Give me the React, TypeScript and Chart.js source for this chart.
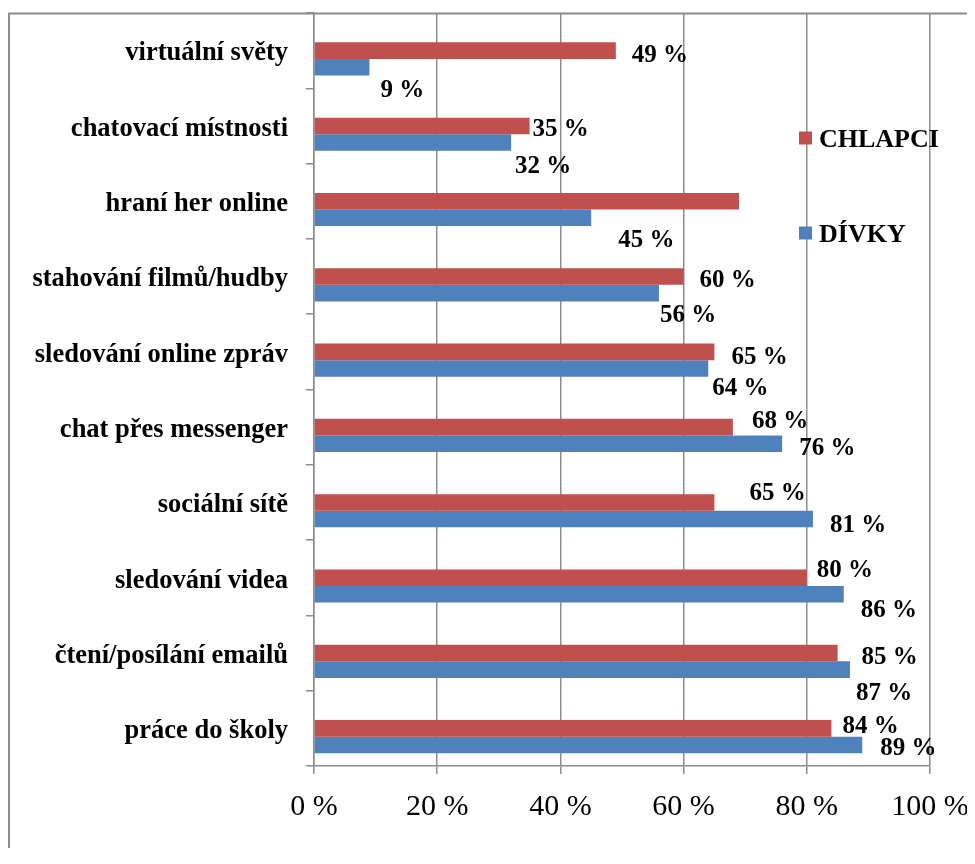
import React, { useEffect, useRef } from "react";
import { Chart, registerables } from "chart.js";

Chart.register(...registerables);

const categories = [
  "virtuální světy",
  "chatovací místnosti",
  "hraní her online",
  "stahování filmů/hudby",
  "sledování online zpráv",
  "chat přes messenger",
  "sociální sítě",
  "sledování videa",
  "čtení/posílání emailů",
  "práce do školy",
];
const chlapci = [49, 35, 69, 60, 65, 68, 65, 80, 85, 84];
const divky = [9, 32, 45, 56, 64, 76, 81, 86, 87, 89];
const chlapciLabelShown = [true, true, false, true, true, true, true, true, true, true];
const divkyLabelShown = [true, true, true, true, true, true, true, true, true, true];
const seriesNames = ["CHLAPCI", "DÍVKY"];
const xTickValues = [0, 20, 40, 60, 80, 100];

// manual nudges of the data labels (like moved Excel labels), in px from the bar end
const chlapciNudge = [
  [16, 2], [3, 1], [0, 0], [16, 1], [17, 3], [19, -9], [35, -12], [10, -10], [24, 1], [11, -5],
];
const divkyNudge = [
  [11, 20], [4, 21], [27, 20], [1, 19], [4, 17], [17, 2], [17, 4], [17, 13], [6, 21], [18, 1],
];

const RED = "#C0504D";
const BLUE = "#4F81BD";
const GRID = "#8c8c8c";
const SERIF = "'Liberation Serif', 'Times New Roman', serif";

export default function App() {
  const ref = useRef<HTMLCanvasElement | null>(null);

  useEffect(() => {
    if (!ref.current) return;

    const decor = {
      id: "decor",
      beforeDraw(chart: any) {
        const ctx = chart.ctx;
        ctx.save();
        ctx.strokeStyle = GRID;
        ctx.lineWidth = 2;
        ctx.beginPath();
        ctx.moveTo(1, chart.height);
        ctx.lineTo(1, 5.5);
        ctx.lineTo(chart.width, 5.5);
        ctx.stroke();
        ctx.restore();
      },
      afterDatasetsDraw(chart: any) {
        const ctx = chart.ctx;
        ctx.save();
        ctx.fillStyle = "#000";
        ctx.font = `bold 25px ${SERIF}`;
        ctx.textAlign = "left";
        ctx.textBaseline = "middle";
        const sets = [
          { meta: chart.getDatasetMeta(1), vals: chlapci, shown: chlapciLabelShown, nudge: chlapciNudge },
          { meta: chart.getDatasetMeta(2), vals: divky, shown: divkyLabelShown, nudge: divkyNudge },
        ];
        for (const s of sets) {
          s.meta.data.forEach((bar: any, i: number) => {
            if (!s.shown[i]) return;
            ctx.fillText(`${s.vals[i]} %`, bar.x + s.nudge[i][0], bar.y + s.nudge[i][1] + 3);
          });
        }
        // x tick labels
        const xs = chart.scales.x;
        ctx.font = `30px ${SERIF}`;
        ctx.textAlign = "center";
        for (const v of xTickValues) {
          ctx.fillText(`${v} %`, xs.getPixelForValue(v), 799);
        }
        // legend
        ctx.font = `bold 26px ${SERIF}`;
        ctx.textAlign = "left";
        const legendItems = [
          { name: seriesNames[0], color: RED, y: 130 },
          { name: seriesNames[1], color: BLUE, y: 225 },
        ];
        for (const it of legendItems) {
          ctx.fillStyle = it.color;
          ctx.fillRect(791, it.y - 6.5, 13, 13);
          ctx.fillStyle = "#000";
          ctx.fillText(it.name, 811, it.y + 2);
        }
        ctx.restore();
      },
    };

    const chart = new Chart(ref.current, {
      type: "bar",
      data: {
        labels: categories,
        datasets: [
          { label: "", data: categories.map(() => null), backgroundColor: "transparent" },
          { label: seriesNames[0], data: chlapci, backgroundColor: RED },
          { label: seriesNames[1], data: divky, backgroundColor: BLUE },
        ],
      },
      options: {
        indexAxis: "y",
        animation: false,
        responsive: true,
        maintainAspectRatio: false,
        layout: { padding: { top: 5, right: 37, left: 0, bottom: 0 } },
        datasets: {
          bar: { categoryPercentage: 0.66, barPercentage: 1.0 },
        },
        plugins: {
          legend: { display: false },
          tooltip: { enabled: false },
        },
        scales: {
          x: {
            type: "linear",
            min: 0,
            max: 100,
            ticks: { stepSize: 20, display: false },
            grid: { color: GRID, lineWidth: 1.5, drawTicks: true, tickLength: 8 },
            border: { color: GRID, width: 1.5 },
            afterFit(scale: any) {
              scale.height = 82;
              scale.paddingLeft = 0;
              scale.paddingRight = 0;
            },
          },
          y: {
            type: "category",
            ticks: {
              color: "#000",
              font: { family: SERIF, size: 26.5, weight: "bold" },
              padding: 18,
              labelOffset: 3,
              autoSkip: false,
            },
            grid: { drawOnChartArea: false, drawTicks: true, tickLength: 8, color: GRID, lineWidth: 1.5, offset: true },
            border: { color: GRID, width: 1.5 },
            afterFit(scale: any) {
              scale.width = 306;
              scale.paddingTop = 0;
              scale.paddingBottom = 0;
            },
          },
        },
      },
      plugins: [decor],
    });

    return () => chart.destroy();
  }, []);

  return (
    <div style={{ position: "relative", width: 959, height: 840 }}>
      <canvas ref={ref} />
    </div>
  );
}
